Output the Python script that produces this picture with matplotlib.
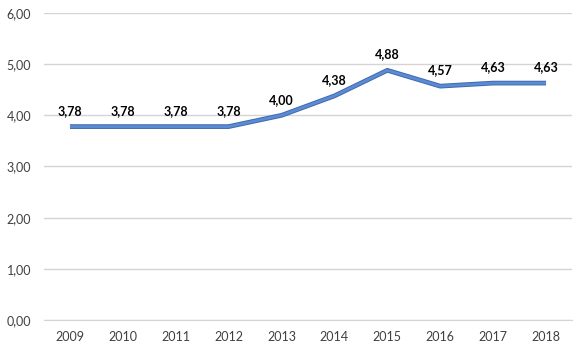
import matplotlib
matplotlib.use("Agg")
import matplotlib.pyplot as plt

years = ["2009", "2010", "2011", "2012", "2013", "2014", "2015", "2016", "2017", "2018"]
values = [3.78, 3.78, 3.78, 3.78, 4.00, 4.38, 4.88, 4.57, 4.63, 4.63]
yticks = [0, 1, 2, 3, 4, 5, 6]

plt.rcParams['font.family'] = ['Lato', 'DejaVu Sans']

fig = plt.figure(figsize=(5.85, 3.51), dpi=100)
ax = fig.add_axes([0.0744, 0.0883, 0.9042, 0.8747])

x = list(range(len(years)))
ax.plot(x, values, color='#3F69AE', linewidth=3.4, solid_capstyle='butt', zorder=3)
ax.plot(x, values, color='#5B8BD3', linewidth=2.0, solid_capstyle='butt', zorder=4)
for xi, v in zip(x, values):
    ax.annotate(f"{v:.2f}".replace('.', ','), (xi, v), xytext=(0, 7), textcoords='offset points',
                ha='center', va='bottom', fontsize=9, fontweight='bold', color='#000000')

ax.set_xlim(-0.5, len(years) - 0.5)
ax.set_ylim(0, 6)
ax.set_yticks(yticks)
ax.set_yticklabels([f"{t:.2f}".replace('.', ',') for t in yticks])
ax.set_xticks(x)
ax.set_xticklabels(years)
ax.yaxis.grid(True, color='#D4D4D4', linewidth=1)
ax.set_axisbelow(True)
for s in ax.spines.values():
    s.set_visible(False)
ax.spines['bottom'].set_visible(True)
ax.spines['bottom'].set_color('#D4D4D4')
ax.tick_params(axis='both', length=0, labelsize=9, colors='#404040')
ax.tick_params(axis='x', pad=8)
ax.tick_params(axis='y', pad=9)

fig.savefig("out.png", dpi=100)
